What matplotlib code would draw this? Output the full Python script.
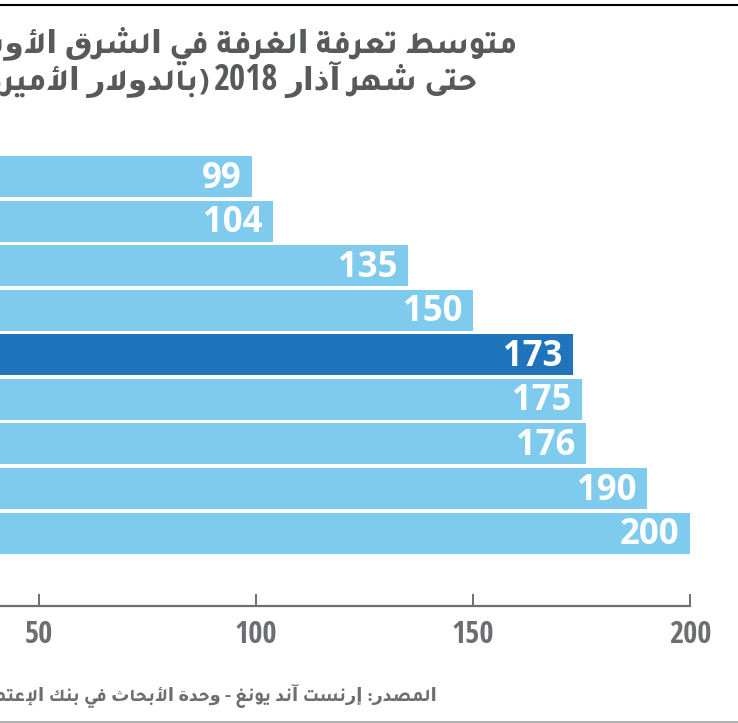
import re
import matplotlib
matplotlib.use("Agg")
import matplotlib.pyplot as plt
from matplotlib.lines import Line2D

# ---------------- data ----------------
values = [99, 104, 135, 150, 173, 175, 176, 190, 200]
highlight = [False, False, False, False, True, False, False, False, False]
xticks = [0, 50, 100, 150, 200]
title_line1 = "متوسط تعرفة الغرفة في الشرق الأوسط"
title_line2_a = "حتى شهر آذار"
title_line2_year = "2018"
title_line2_b = "(بالدولار الأميركي)"
source_text = "المصدر: إرنست آند يونغ - وحدة الأبحاث في بنك الإعتماد اللبناني"

# ---------------- minimal Arabic shaping ----------------
AR = {
    '\u0621': (0xFE80, 0), '\u0622': (0xFE81, 1), '\u0623': (0xFE83, 1),
    '\u0624': (0xFE85, 1), '\u0625': (0xFE87, 1), '\u0626': (0xFE89, 2),
    '\u0627': (0xFE8D, 1), '\u0628': (0xFE8F, 2), '\u0629': (0xFE93, 1),
    '\u062A': (0xFE95, 2), '\u062B': (0xFE99, 2), '\u062C': (0xFE9D, 2),
    '\u062D': (0xFEA1, 2), '\u062E': (0xFEA5, 2), '\u062F': (0xFEA9, 1),
    '\u0630': (0xFEAB, 1), '\u0631': (0xFEAD, 1), '\u0632': (0xFEAF, 1),
    '\u0633': (0xFEB1, 2), '\u0634': (0xFEB5, 2), '\u0635': (0xFEB9, 2),
    '\u0636': (0xFEBD, 2), '\u0637': (0xFEC1, 2), '\u0638': (0xFEC5, 2),
    '\u0639': (0xFEC9, 2), '\u063A': (0xFECD, 2), '\u0641': (0xFED1, 2),
    '\u0642': (0xFED5, 2), '\u0643': (0xFED9, 2), '\u0644': (0xFEDD, 2),
    '\u0645': (0xFEE1, 2), '\u0646': (0xFEE5, 2), '\u0647': (0xFEE9, 2),
    '\u0648': (0xFEED, 1), '\u0649': (0xFEEF, 1), '\u064A': (0xFEF1, 2),
}
LAMALEF = {'\u0622': 0xFEF5, '\u0623': 0xFEF7, '\u0625': 0xFEF9, '\u0627': 0xFEFB}


def shape(s):
    items = []
    i = 0
    while i < len(s):
        c = s[i]
        if c == '\u0644' and i + 1 < len(s) and s[i + 1] in LAMALEF:
            items.append(('LA', LAMALEF[s[i + 1]]))
            i += 2
        else:
            items.append((c, None))
            i += 1

    def jt(it):
        if it[0] == 'LA':
            return 1
        return AR[it[0]][1] if it[0] in AR else -1

    out = []
    for k, it in enumerate(items):
        t = jt(it)
        if t < 0:
            out.append(it[0])
            continue
        base = it[1] if it[0] == 'LA' else AR[it[0]][0]
        if t == 0:
            out.append(chr(base))
            continue
        prev = jt(items[k - 1]) if k > 0 else -1
        nxt = jt(items[k + 1]) if k + 1 < len(items) else -1
        jp = prev == 2
        jn = (t == 2) and nxt >= 1
        off = 3 if (jp and jn) else 2 if jn else 1 if jp else 0
        out.append(chr(base + off))
    return ''.join(out)


def visual(s):
    r = shape(s)[::-1]
    r = re.sub(r'[0-9]+', lambda m: m.group(0)[::-1], r)
    return r.translate(str.maketrans('()', ')('))


# ---------------- figure ----------------
W, H = 738, 723
fig = plt.figure(figsize=(W / 100, H / 100), dpi=100)
fig.patch.set_facecolor('white')
renderer = fig.canvas.get_renderer()

light = '#7fcbee'
dark = '#1f74bc'
gray = '#6d6e71'
title_gray = '#58595b'
AR_FONT = ['Tajawal', 'DejaVu Sans']
NUM_FONT = ['Open Sans Condensed', 'DejaVu Sans']

# axes: x=0 at px -178, x=200 at px 690 ; bottom spine at px 606
left_px, right_px = -178, 690
top_px, bot_px = 154.2, 606
ax = fig.add_axes([left_px / W, 1 - bot_px / H,
                   (right_px - left_px) / W, (bot_px - top_px) / H])

ypos = list(range(len(values)))
colors = [dark if h else light for h in highlight]
ax.barh(ypos, values, height=0.92, color=colors, zorder=2)
ax.set_xlim(0, 200)
ax.set_ylim(9.638, -0.5)

for y, v in zip(ypos, values):
    ax.annotate(str(v), xy=(v, y), xytext=(-7.5, -1.5), textcoords='offset points',
                ha='right', va='center', color='white', fontsize=25,
                fontfamily=['Open Sans', 'DejaVu Sans'], fontweight='bold',
                zorder=3)

for s in ['left', 'top', 'right']:
    ax.spines[s].set_visible(False)
ax.spines['bottom'].set_color(gray)
ax.spines['bottom'].set_linewidth(1.6)
ax.set_yticks([])
ax.set_xticks(xticks)
ax.set_xticklabels([str(t) for t in xticks])
ax.tick_params(axis='x', direction='in', length=8.5, width=1.4, color=gray,
               pad=10, labelsize=22, labelcolor=gray)
for lab in ax.get_xticklabels():
    lab.set_fontfamily(NUM_FONT)
    lab.set_fontweight('bold')
ax.set_facecolor('none')


def draw_rtl(pieces, x_right, y_base):
    """Place text pieces from right to left, given in visual right-to-left order."""
    x = x_right
    for txt, gap, kw in pieces:
        x -= gap
        t = fig.text(x / W, 1 - y_base / H, txt, ha='right', va='baseline', **kw)
        x -= t.get_window_extent(renderer).width


ar_title = dict(fontsize=22.5, fontfamily=AR_FONT, fontweight=800, color=title_gray)
num_title = dict(fontsize=25, fontfamily=NUM_FONT, fontweight='bold', color=title_gray)

fig.text(517 / W, 1 - 53 / H, visual(title_line1), ha='right', va='baseline', **ar_title)
draw_rtl([(visual(title_line2_a), 0, ar_title),
          (title_line2_year, 6, num_title),
          (visual(title_line2_b), 4, ar_title)], 477, 90)

fig.text(437 / W, 1 - 701 / H, visual(source_text), ha='right', va='baseline',
         fontsize=13, fontfamily=AR_FONT, fontweight=800, color=gray)

# rules
fig.add_artist(Line2D([0, 1], [1 - 5 / H, 1 - 5 / H], color='black', lw=1.5,
                      transform=fig.transFigure))
fig.add_artist(Line2D([0, 1], [1 - 721.5 / H, 1 - 721.5 / H], color='#b3b3b3',
                      lw=1.5, transform=fig.transFigure))

fig.savefig('out.png', dpi=100, facecolor='white')
